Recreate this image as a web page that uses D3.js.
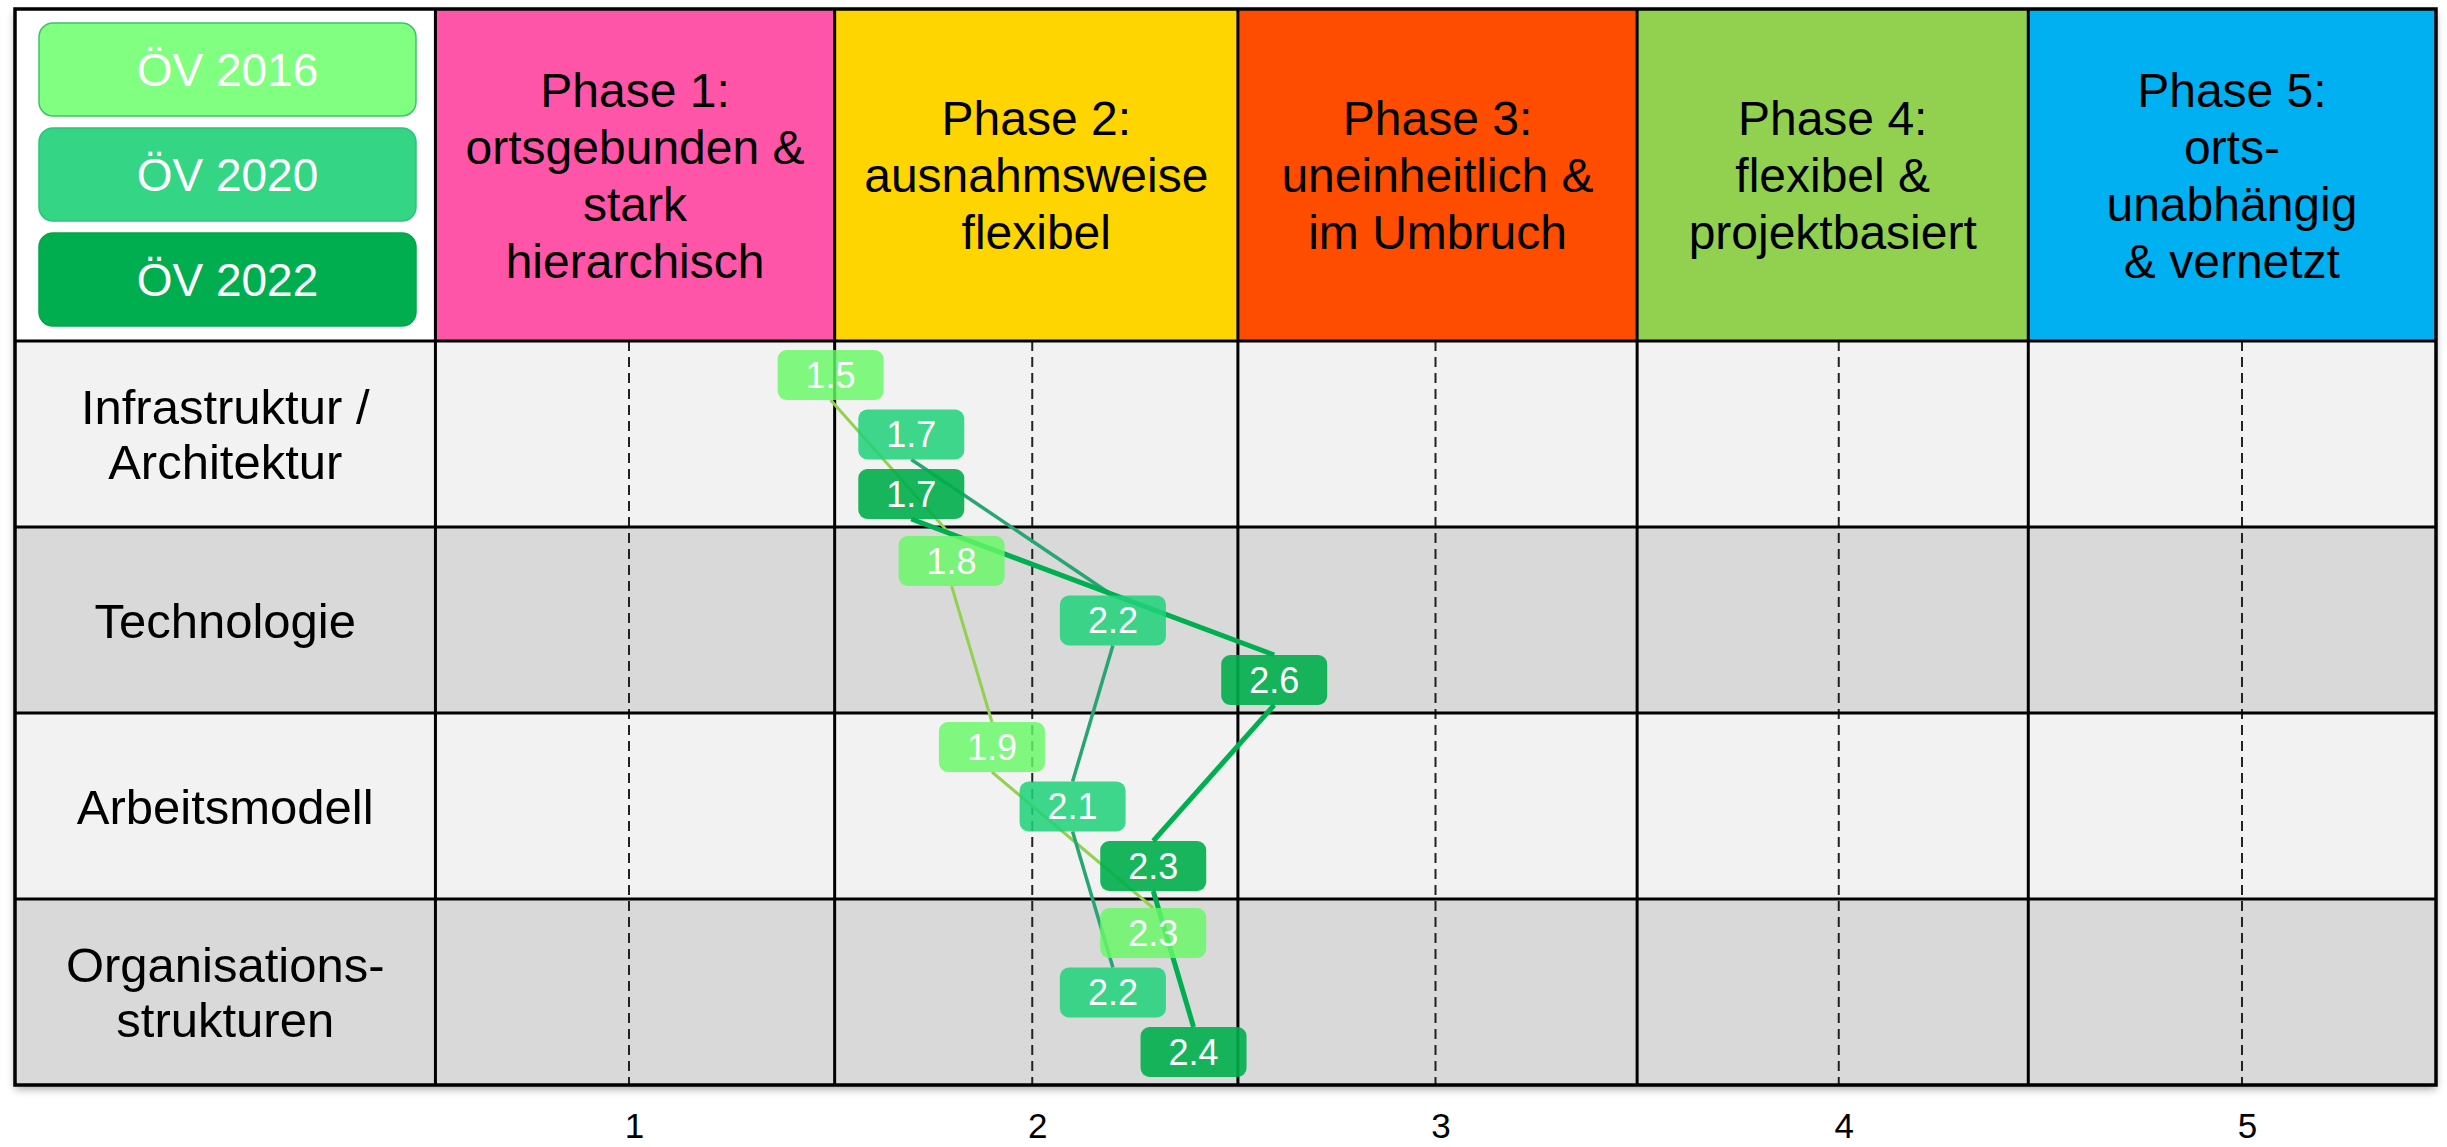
<!DOCTYPE html>
<html>
<head>
<meta charset="utf-8">
<script src="https://cdn.jsdelivr.net/npm/d3@7/dist/d3.min.js"></script>
<style>
  html, body { margin: 0; padding: 0; background: #ffffff; }
  svg { display: block; }
  text { font-family: "Liberation Sans", Arial, Helvetica, sans-serif; }
</style>
</head>
<body>
<svg id="chart" width="2447" height="1147"></svg>
<script>
// ---------------- DATA ----------------
const categories = ["Infrastruktur /\nArchitektur", "Technologie", "Arbeitsmodell", "Organisations-\nstrukturen"];
const phases = [
  "Phase 1:\nortsgebunden &\nstark\nhierarchisch",
  "Phase 2:\nausnahmsweise\nflexibel",
  "Phase 3:\nuneinheitlich &\nim Umbruch",
  "Phase 4:\nflexibel &\nprojektbasiert",
  "Phase 5:\norts-\nunabhängig\n& vernetzt"
];
const phaseEdges = [0.52, 1.51, 2.51, 3.5, 4.47, 5.48];
const seriesNames = ["ÖV 2016", "ÖV 2020", "ÖV 2022"];
const values2016 = [1.5, 1.8, 1.9, 2.3];
const values2020 = [1.7, 2.2, 2.1, 2.2];
const values2022 = [1.7, 2.6, 2.3, 2.4];
const tickValues = [1, 2, 3, 4, 5];

// ---------------- STYLE ----------------
const phaseColors = ["#FF55A8", "#FFD500", "#FF4D00", "#92D050", "#00B0F0"];
const rowColors = ["#F2F2F2", "#D9D9D9"];
const boxFill = ["#66F966", "#1FD27A", "#00AE4C"];
const boxOpacity = [0.82, 0.86, 0.9];
const legendFill = ["#80FF80", "#34D686", "#00AE50"];
const legendStroke = ["#3BC46A", "#2CC47A", "#00A64B"];
const lineColor = ["#92D050", "#27A674", "#00B050"];
const lineWidth = [3, 3.5, 5];
const FONT = '"Liberation Sans", Arial, Helvetica, sans-serif';

const svg = d3.select("#chart");
const tableLeft = 15, tableRight = 2436, tableTop = 9, headerBottom = 341, tableBottom = 1085;

const x = d3.scaleLinear().domain([1, 5]).range([629, 2242]);
const y = d3.scaleBand().domain(categories).range([headerBottom, tableBottom]).padding(0);
const ySub = d3.scalePoint().domain(seriesNames).range([-59, 60]);

const seriesData = seriesNames.map((name, si) => {
  const vals = [values2016, values2020, values2022][si];
  return { name, si, points: categories.map((c, ci) => ({ c, v: vals[ci], si })) };
});

const boxW = 106, boxH = 50;
const px = d => x(d.v);
const py = d => y(d.c) + y.bandwidth() / 2 + ySub(seriesNames[d.si]);

// defs: shadow
const defs = svg.append("defs");
const f = defs.append("filter").attr("id", "shadow").attr("x", "-5%").attr("y", "-5%").attr("width", "110%").attr("height", "112%");
f.append("feDropShadow").attr("dx", 0).attr("dy", 4).attr("stdDeviation", 4).attr("flood-color", "#000").attr("flood-opacity", 0.35);

// table shadow base
svg.append("rect")
  .attr("x", tableLeft).attr("y", tableTop)
  .attr("width", tableRight - tableLeft).attr("height", tableBottom - tableTop)
  .attr("fill", "#ffffff").attr("filter", "url(#shadow)");

// row backgrounds
svg.append("g").selectAll("rect").data(categories).join("rect")
  .attr("x", tableLeft).attr("y", d => y(d))
  .attr("width", tableRight - tableLeft).attr("height", y.bandwidth())
  .attr("fill", (d, i) => rowColors[i % 2]);

// header legend cell
svg.append("rect").attr("x", tableLeft).attr("y", tableTop)
  .attr("width", x(phaseEdges[0]) - tableLeft).attr("height", headerBottom - tableTop)
  .attr("fill", "#ffffff");

// header phase cells
svg.append("g").selectAll("rect").data(phases).join("rect")
  .attr("x", (d, i) => x(phaseEdges[i])).attr("y", tableTop)
  .attr("width", (d, i) => x(phaseEdges[i + 1]) - x(phaseEdges[i]))
  .attr("height", headerBottom - tableTop)
  .attr("fill", (d, i) => phaseColors[i]);

// multi-line text helper
function multiText(g, lines, cx, cy, fs, lh) {
  const n = lines.length;
  lines.forEach((ln, i) => {
    g.append("text")
      .attr("x", cx)
      .attr("y", cy + (i - (n - 1) / 2) * lh + 0.716 * fs / 2)
      .attr("text-anchor", "middle")
      .attr("font-size", fs)
      .attr("fill", "#000")
      .text(ln);
  });
}

// header texts
const hg = svg.append("g");
phases.forEach((p, i) => {
  const cx = (x(phaseEdges[i]) + x(phaseEdges[i + 1])) / 2;
  multiText(hg, p.split("\n"), cx, (tableTop + headerBottom) / 2, 48, 57);
});

// row label texts
const rg = svg.append("g");
categories.forEach(c => {
  multiText(rg, c.split("\n"), (tableLeft + x(phaseEdges[0])) / 2, y(c) + y.bandwidth() / 2, 49, 55);
});

// dashed vertical lines at tick values
svg.append("g").selectAll("line").data(tickValues).join("line")
  .attr("x1", d => x(d)).attr("x2", d => x(d))
  .attr("y1", headerBottom).attr("y2", tableBottom)
  .attr("stroke", "#222").attr("stroke-width", 2).attr("stroke-dasharray", "10,6");

// grid lines
const gl = svg.append("g").attr("stroke", "#000").attr("stroke-width", 3);
phaseEdges.slice(0, -1).forEach(e => {
  gl.append("line").attr("x1", x(e)).attr("x2", x(e)).attr("y1", tableTop).attr("y2", tableBottom);
});
categories.forEach(c => {
  gl.append("line").attr("x1", tableLeft).attr("x2", tableRight).attr("y1", y(c)).attr("y2", y(c));
});
svg.append("rect")
  .attr("x", tableLeft).attr("y", tableTop)
  .attr("width", tableRight - tableLeft).attr("height", tableBottom - tableTop)
  .attr("fill", "none").attr("stroke", "#000").attr("stroke-width", 3.5);

// legend
const lg = svg.append("g");
seriesNames.forEach((s, i) => {
  const ly = 23 + i * 105;
  lg.append("rect").attr("x", 39).attr("y", ly).attr("width", 377).attr("height", 93)
    .attr("rx", 14).attr("fill", legendFill[i]).attr("stroke", legendStroke[i]).attr("stroke-width", 1.5);
  lg.append("text").attr("x", 39 + 377 / 2).attr("y", ly + 93 / 2 + 0.716 * 46 / 2)
    .attr("text-anchor", "middle").attr("font-size", 46).attr("fill", "#fff").text(s);
});

// connector lines (bottom-center of box to top-center of next box)
const lineG = svg.append("g");
seriesData.forEach(sd => {
  const segs = d3.pairs(sd.points);
  lineG.append("g").selectAll("line").data(segs).join("line")
    .attr("x1", d => px(d[0])).attr("y1", d => py(d[0]) + boxH / 2)
    .attr("x2", d => px(d[1])).attr("y2", d => py(d[1]) - boxH / 2)
    .attr("stroke", lineColor[sd.si]).attr("stroke-width", lineWidth[sd.si])
    .attr("stroke-linecap", "butt");
});

// value boxes
const fmt = d3.format(".1f");
const boxG = svg.append("g");
seriesData.forEach(sd => {
  const g = boxG.append("g");
  const items = g.selectAll("g").data(sd.points).join("g");
  items.append("rect")
    .attr("x", d => px(d) - boxW / 2).attr("y", d => py(d) - boxH / 2)
    .attr("width", boxW).attr("height", boxH).attr("rx", 9)
    .attr("fill", boxFill[sd.si]).attr("fill-opacity", boxOpacity[sd.si]);
  items.append("text")
    .attr("x", d => px(d)).attr("y", d => py(d) + 0.716 * 36 / 2)
    .attr("text-anchor", "middle").attr("font-size", 36).attr("fill", "#fff")
    .text(d => fmt(d.v));
});

// x axis tick labels
const axis = d3.axisBottom(x).tickValues(tickValues).tickSize(0).tickPadding(0).tickFormat(d3.format("d"));
const ax = svg.append("g").attr("transform", `translate(5, 1113)`).call(axis);
ax.select(".domain").remove();
ax.selectAll("text").attr("font-size", 35).attr("fill", "#000").attr("font-family", FONT).attr("dy", "0.71em");
</script>
</body>
</html>
